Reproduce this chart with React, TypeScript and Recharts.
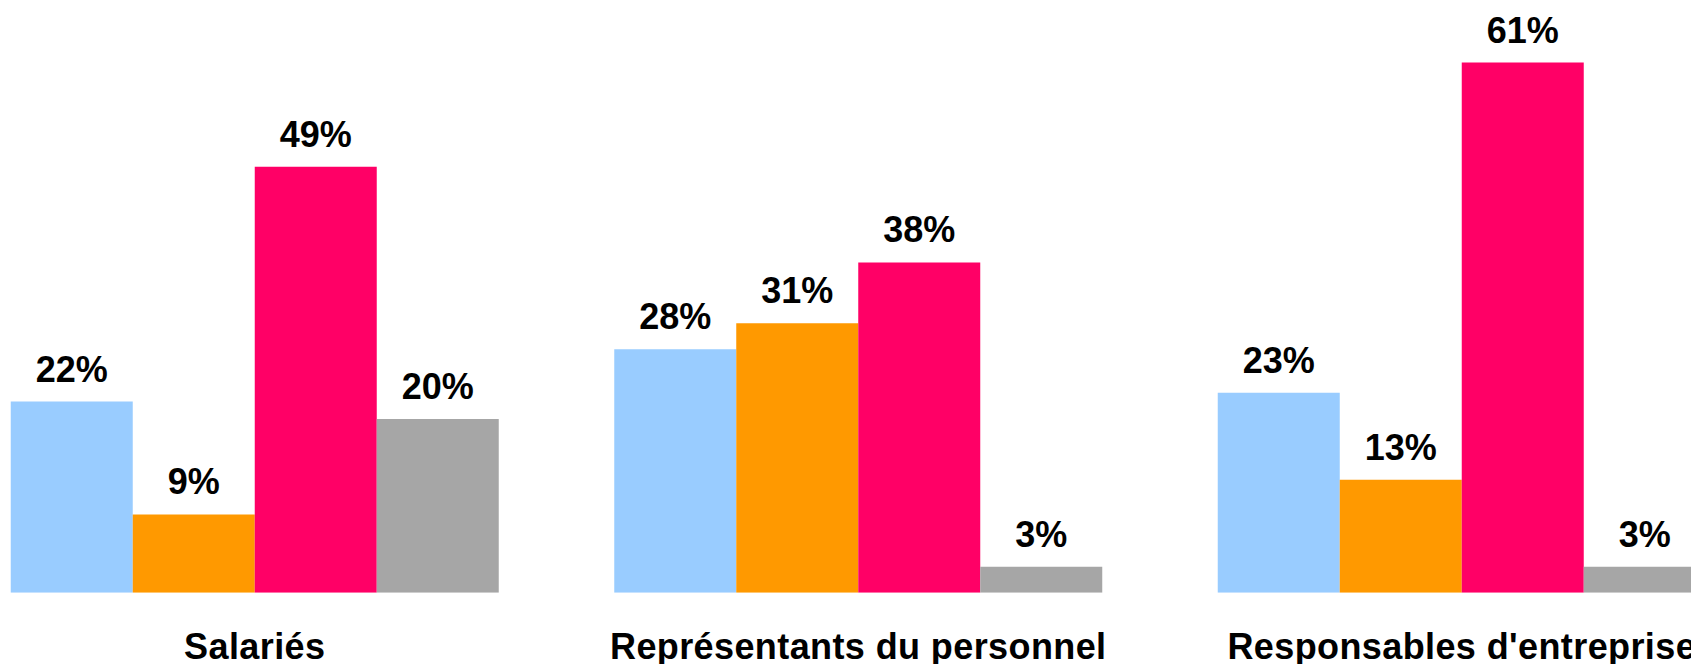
import React from 'react';
import { BarChart, Bar, XAxis, YAxis, LabelList } from 'recharts';

const categories = ['Salariés', 'Représentants du personnel', "Responsables d'entreprise"];
const seriesA = [22, 28, 23];
const seriesB = [9, 31, 13];
const seriesC = [49, 38, 61];
const seriesD = [20, 3, 3];

const colors = ['#99CCFF', '#FF9900', '#FF0066', '#A6A6A6'];
const seriesKeys = ['a', 'b', 'c', 'd'];

const data = categories.map((name, i) => ({
  name,
  a: seriesA[i],
  b: seriesB[i],
  c: seriesC[i],
  d: seriesD[i],
}));

const FONT = "'Liberation Sans', Arial, sans-serif";

const CategoryTick = (props: any) => {
  const { x, y, payload } = props;
  return (
    <text
      x={x}
      y={y + 66}
      textAnchor="middle"
      fontFamily={FONT}
      fontWeight="bold"
      fontSize={36}
      letterSpacing={0.4}
      fill="#000"
    >
      {payload.value}
    </text>
  );
};

export default function App() {
  return (
    <div
      style={{
        position: 'absolute',
        left: 0,
        top: 0,
        width: 1691,
        height: 664,
        overflow: 'hidden',
        background: '#fff',
      }}
    >
      <div style={{ position: 'absolute', left: -46.75, top: 0 }}>
        <BarChart
          width={1810.5}
          height={664}
          data={data}
          margin={{ top: 0, right: 0, bottom: 0, left: 0 }}
          barCategoryGap={57.75}
          barGap={0}
        >
          <XAxis
            dataKey="name"
            height={71.3}
            axisLine={false}
            tickLine={false}
            tickSize={0}
            tickMargin={0}
            interval={0}
            tick={<CategoryTick />}
          />
          <YAxis hide domain={[0, 68.2]} allowDataOverflow />
          {seriesKeys.map((k, i) => (
            <Bar key={k} dataKey={k} fill={colors[i]} isAnimationActive={false}>
              <LabelList
                dataKey={k}
                position="top"
                offset={20}
                formatter={(v: any) => `${v}%`}
                style={{ fontFamily: FONT, fontWeight: 'bold', fontSize: 36, fill: '#000' }}
              />
            </Bar>
          ))}
        </BarChart>
      </div>
    </div>
  );
}
